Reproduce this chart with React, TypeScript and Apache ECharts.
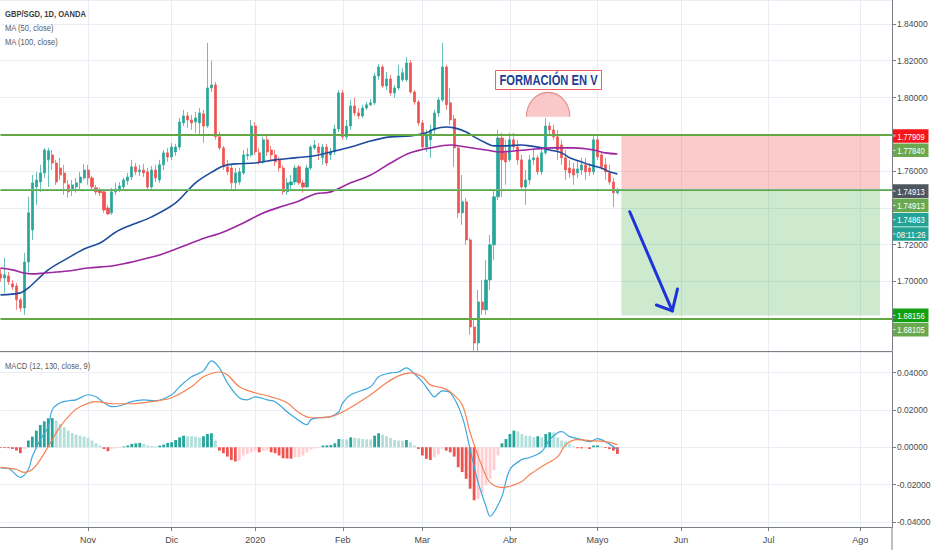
import React, { useEffect, useRef } from "react";
import * as echarts from "echarts";

// ---------- text ----------
const TITLE = "GBP/SGD, 1D, OANDA";
const MA_LABELS = ["MA (50, close)", "MA (100, close)"];
const MACD_LABEL = "MACD (12, 130, close, 9)";
const PATTERN_TEXT = "FORMACIÓN EN V";
const MONTH_NAMES = ["Ene", "Feb", "Mar", "Abr", "Mayo", "Jun", "Jul", "Ago", "Sep", "Oct", "Nov", "Dic"];

// ---------- categories (daily bars, weekdays) ----------
const FIRST_DAY = [2019, 9, 2];
const HOLIDAYS = ["2019-12-25", "2020-01-01"];
const SLOT_COUNT = 225;

// ---------- candles: [open, close, low, high] ----------
const CANDLES: number[][] = [
  [1.7041, 1.7019, 1.6998, 1.7074], [1.7019, 1.7036, 1.6938, 1.7128], [1.7030, 1.6998, 1.6981, 1.7052],
  [1.6987, 1.6970, 1.6954, 1.7008], [1.6976, 1.6900, 1.6846, 1.6992], [1.6900, 1.6856, 1.6835, 1.6911],
  [1.6856, 1.7106, 1.6818, 1.7155], [1.7106, 1.7373, 1.7047, 1.7460], [1.7280, 1.7536, 1.7226, 1.7579],
  [1.7514, 1.7552, 1.7416, 1.7596], [1.7541, 1.7590, 1.7487, 1.7634], [1.7590, 1.7715, 1.7563, 1.7726],
  [1.7661, 1.7710, 1.7514, 1.7726], [1.7688, 1.7644, 1.7606, 1.7715], [1.7644, 1.7541, 1.7525, 1.7661],
  [1.7617, 1.7579, 1.7552, 1.7672], [1.7590, 1.7536, 1.7471, 1.7634], [1.7525, 1.7487, 1.7455, 1.7552],
  [1.7498, 1.7525, 1.7465, 1.7552], [1.7514, 1.7536, 1.7482, 1.7563], [1.7536, 1.7568, 1.7498, 1.7596],
  [1.7563, 1.7606, 1.7552, 1.7639], [1.7606, 1.7563, 1.7525, 1.7634], [1.7563, 1.7514, 1.7498, 1.7574],
  [1.7509, 1.7487, 1.7471, 1.7525], [1.7492, 1.7482, 1.7465, 1.7509], [1.7487, 1.7389, 1.7373, 1.7498],
  [1.7400, 1.7367, 1.7362, 1.7416], [1.7373, 1.7487, 1.7362, 1.7509], [1.7487, 1.7503, 1.7471, 1.7536],
  [1.7503, 1.7519, 1.7487, 1.7541], [1.7514, 1.7552, 1.7498, 1.7563], [1.7547, 1.7568, 1.7525, 1.7590],
  [1.7568, 1.7623, 1.7552, 1.7661], [1.7623, 1.7596, 1.7579, 1.7644], [1.7596, 1.7606, 1.7574, 1.7634],
  [1.7606, 1.7590, 1.7568, 1.7639], [1.7596, 1.7514, 1.7498, 1.7617], [1.7514, 1.7606, 1.7503, 1.7628],
  [1.7606, 1.7563, 1.7541, 1.7634], [1.7552, 1.7634, 1.7536, 1.7661], [1.7634, 1.7699, 1.7606, 1.7715],
  [1.7699, 1.7677, 1.7650, 1.7726], [1.7677, 1.7731, 1.7661, 1.7753], [1.7704, 1.7731, 1.7683, 1.7748],
  [1.7731, 1.7867, 1.7715, 1.7889], [1.7862, 1.7900, 1.7845, 1.7933], [1.7900, 1.7878, 1.7835, 1.7922],
  [1.7878, 1.7862, 1.7824, 1.7905], [1.7867, 1.7889, 1.7808, 1.7922], [1.7862, 1.7916, 1.7797, 1.7943],
  [1.7911, 1.7845, 1.7753, 1.7933], [1.7845, 1.8052, 1.7835, 1.8297], [1.8052, 1.8068, 1.8030, 1.8199],
  [1.8068, 1.7786, 1.7770, 1.8085], [1.7786, 1.7726, 1.7715, 1.7813], [1.7726, 1.7623, 1.7606, 1.7737],
  [1.7623, 1.7596, 1.7579, 1.7661], [1.7617, 1.7536, 1.7498, 1.7634], [1.7536, 1.7590, 1.7498, 1.7617],
  [1.7541, 1.7596, 1.7525, 1.7617], [1.7590, 1.7688, 1.7579, 1.7715], [1.7683, 1.7690, 1.7661, 1.7726],
  [1.7688, 1.7845, 1.7677, 1.7878], [1.7845, 1.7704, 1.7688, 1.7867], [1.7699, 1.7650, 1.7634, 1.7726],
  [1.7650, 1.7770, 1.7639, 1.7786], [1.7770, 1.7704, 1.7683, 1.7797], [1.7715, 1.7688, 1.7661, 1.7737],
  [1.7688, 1.7650, 1.7628, 1.7715], [1.7661, 1.7617, 1.7596, 1.7677], [1.7617, 1.7487, 1.7471, 1.7634],
  [1.7487, 1.7536, 1.7471, 1.7563], [1.7525, 1.7541, 1.7498, 1.7579], [1.7541, 1.7617, 1.7525, 1.7634],
  [1.7623, 1.7536, 1.7525, 1.7634], [1.7536, 1.7514, 1.7482, 1.7552], [1.7514, 1.7617, 1.7509, 1.7634],
  [1.7617, 1.7731, 1.7606, 1.7742], [1.7726, 1.7742, 1.7715, 1.7770], [1.7731, 1.7699, 1.7661, 1.7753],
  [1.7672, 1.7731, 1.7634, 1.7748], [1.7731, 1.7644, 1.7628, 1.7748], [1.7688, 1.7704, 1.7661, 1.7726],
  [1.7704, 1.7829, 1.7688, 1.7851], [1.7829, 1.8025, 1.7813, 1.8041], [1.8025, 1.7786, 1.7770, 1.8041],
  [1.7786, 1.7845, 1.7770, 1.7878], [1.7845, 1.7954, 1.7824, 1.7987], [1.7954, 1.7916, 1.7900, 1.7998],
  [1.7916, 1.7900, 1.7884, 1.7943], [1.7900, 1.7943, 1.7889, 1.7960], [1.7943, 1.7960, 1.7933, 1.7976],
  [1.7960, 1.7971, 1.7954, 1.7992], [1.7971, 1.8117, 1.7960, 1.8134], [1.8117, 1.8166, 1.8096, 1.8183],
  [1.8166, 1.8063, 1.8052, 1.8177], [1.8063, 1.8101, 1.8041, 1.8139], [1.8101, 1.8025, 1.8009, 1.8123],
  [1.8025, 1.8052, 1.7998, 1.8068], [1.8052, 1.8117, 1.8041, 1.8177], [1.8096, 1.8134, 1.8085, 1.8161],
  [1.8096, 1.8188, 1.8085, 1.8221], [1.8188, 1.8030, 1.8020, 1.8204], [1.8030, 1.7976, 1.7960, 1.8041],
  [1.7976, 1.7862, 1.7845, 1.7987], [1.7862, 1.7731, 1.7715, 1.7878], [1.7731, 1.7797, 1.7704, 1.7824],
  [1.7770, 1.7824, 1.7672, 1.7851], [1.7824, 1.7916, 1.7797, 1.7933], [1.7916, 1.7987, 1.7894, 1.8003],
  [1.7987, 1.8166, 1.7976, 1.8297], [1.8166, 1.7960, 1.7933, 1.8177], [1.7971, 1.7878, 1.7851, 1.8052],
  [1.7884, 1.7726, 1.7623, 1.7905], [1.7726, 1.7373, 1.7346, 1.7742], [1.7373, 1.7433, 1.7308, 1.7579],
  [1.7433, 1.7226, 1.7199, 1.7455], [1.7226, 1.6753, 1.6710, 1.7237], [1.6753, 1.6666, 1.6617, 1.6802],
  [1.6666, 1.6889, 1.6617, 1.6954], [1.6889, 1.6846, 1.6818, 1.7008], [1.6846, 1.7008, 1.6818, 1.7117],
  [1.7008, 1.7199, 1.6954, 1.7253], [1.7199, 1.7460, 1.7117, 1.7498], [1.7460, 1.7780, 1.7443, 1.7824],
  [1.7780, 1.7661, 1.7460, 1.7808], [1.7699, 1.7650, 1.7525, 1.7770], [1.7661, 1.7770, 1.7650, 1.7808],
  [1.7770, 1.7731, 1.7715, 1.7808], [1.7731, 1.7661, 1.7634, 1.7770], [1.7661, 1.7514, 1.7498, 1.7688],
  [1.7514, 1.7552, 1.7416, 1.7606], [1.7552, 1.7661, 1.7525, 1.7688], [1.7661, 1.7672, 1.7634, 1.7715],
  [1.7672, 1.7596, 1.7579, 1.7688], [1.7596, 1.7699, 1.7579, 1.7726], [1.7699, 1.7845, 1.7688, 1.7889],
  [1.7845, 1.7824, 1.7797, 1.7867], [1.7824, 1.7786, 1.7770, 1.7851], [1.7786, 1.7715, 1.7661, 1.7824],
  [1.7742, 1.7672, 1.7634, 1.7770], [1.7672, 1.7606, 1.7552, 1.7715], [1.7617, 1.7590, 1.7563, 1.7661],
  [1.7612, 1.7579, 1.7525, 1.7644], [1.7590, 1.7612, 1.7563, 1.7661], [1.7606, 1.7634, 1.7579, 1.7672],
  [1.7634, 1.7596, 1.7552, 1.7672], [1.7617, 1.7596, 1.7574, 1.7644], [1.7596, 1.7770, 1.7579, 1.7797],
  [1.7770, 1.7677, 1.7661, 1.7797], [1.7688, 1.7623, 1.7606, 1.7704], [1.7634, 1.7596, 1.7552, 1.7672],
  [1.7590, 1.7541, 1.7525, 1.7634], [1.7541, 1.7482, 1.7405, 1.7563], [1.7482, 1.7491, 1.7471, 1.7509],
];

// ---------- moving averages: [bar index, value] ----------
const MA50: number[][] = [
  [0, 1.6927], [5, 1.6938], [7, 1.6965], [12, 1.7063], [17, 1.7128], [21, 1.7177], [25, 1.7209],
  [29, 1.7269], [33, 1.7308], [38, 1.7351], [44, 1.7427], [49, 1.7536], [54, 1.7606], [56, 1.7628],
  [59, 1.7639], [64, 1.7644], [69, 1.7661], [74, 1.7672], [79, 1.7683], [83, 1.7704], [88, 1.7731],
  [93, 1.7764], [98, 1.7786], [103, 1.7791], [107, 1.7808], [109, 1.7829], [112, 1.7840], [114, 1.7835],
  [117, 1.7813], [119, 1.7786], [122, 1.7753], [124, 1.7737], [127, 1.7737], [131, 1.7742], [133, 1.7737],
  [136, 1.7726], [138, 1.7715], [141, 1.7699], [143, 1.7672], [146, 1.7650], [148, 1.7634], [151, 1.7617],
  [153, 1.7596], [155, 1.7585],
];
const MA100: number[][] = [
  [0, 1.7073], [3, 1.7063], [6, 1.7046], [8, 1.7041], [11, 1.7046], [17, 1.7057], [22, 1.7073],
  [28, 1.7084], [32, 1.7101], [36, 1.7122], [40, 1.7144], [50, 1.7226], [56, 1.7269], [61, 1.7318],
  [66, 1.7372], [71, 1.7410], [75, 1.7438], [79, 1.7476], [83, 1.7487], [88, 1.7536], [93, 1.7579],
  [98, 1.7644], [103, 1.7699], [108, 1.7726], [113, 1.7742], [117, 1.7731], [122, 1.7715], [125, 1.7704],
  [132, 1.7715], [139, 1.7726], [144, 1.7726], [149, 1.7715], [152, 1.7699], [155, 1.7693],
];

// ---------- MACD ----------
const MACD_LINE: number[][] = [
  [0, -0.0110], [2, -0.0114], [5, -0.0161], [7, -0.0119], [8, -0.0050], [10, 0.0041], [12, 0.0110],
  [13, 0.0201], [15, 0.0238], [17, 0.0249], [19, 0.0254], [22, 0.0281], [24, 0.0270], [26, 0.0238],
  [28, 0.0217], [30, 0.0222], [33, 0.0244], [36, 0.0254], [39, 0.0249], [43, 0.0281], [45, 0.0324],
  [48, 0.0377], [51, 0.0409], [53, 0.0462], [55, 0.0425], [57, 0.0345], [60, 0.0265], [62, 0.0254],
  [64, 0.0270], [67, 0.0254], [69, 0.0244], [72, 0.0190], [74, 0.0158], [77, 0.0121], [78, 0.0148],
  [80, 0.0158], [83, 0.0164], [85, 0.0190], [86, 0.0238], [88, 0.0281], [93, 0.0324], [95, 0.0377],
  [98, 0.0398], [100, 0.0403], [102, 0.0425], [103, 0.0414], [106, 0.0350], [108, 0.0292], [109, 0.0270],
  [111, 0.0302], [113, 0.0292], [116, 0.0164], [118, -0.0012], [120, -0.0188], [122, -0.0316],
  [123, -0.0369], [124, -0.0348], [126, -0.0263], [128, -0.0119], [131, -0.0066], [133, -0.0055],
  [136, -0.0023], [138, 0.0041], [140, 0.0078], [141, 0.0084], [143, 0.0057], [146, 0.0041],
  [148, 0.0030], [150, 0.0046], [152, 0.0030], [155, -0.0012],
];
const SIGNAL_LINE: number[][] = [
  [0, -0.0108], [4, -0.0119], [6, -0.0135], [8, -0.0119], [10, -0.0066], [12, 0.0004], [15, 0.0110],
  [18, 0.0185], [20, 0.0217], [24, 0.0244], [28, 0.0233], [33, 0.0233], [38, 0.0244], [43, 0.0265],
  [48, 0.0324], [51, 0.0377], [55, 0.0403], [57, 0.0388], [60, 0.0324], [64, 0.0292], [68, 0.0270],
  [72, 0.0238], [75, 0.0185], [78, 0.0158], [80, 0.0158], [83, 0.0164], [87, 0.0201], [93, 0.0281],
  [97, 0.0345], [100, 0.0382], [103, 0.0398], [106, 0.0377], [108, 0.0334], [111, 0.0318], [113, 0.0297],
  [116, 0.0228], [118, 0.0078], [121, -0.0103], [123, -0.0188], [126, -0.0215], [128, -0.0209],
  [131, -0.0183], [133, -0.0146], [136, -0.0103], [140, -0.0050], [142, 0.0014], [145, 0.0041],
  [148, 0.0036], [152, 0.0030], [155, 0.0014],
];
const HISTOGRAM: number[] = [
  -0.0004, -0.0004, -0.0005, -0.0009, -0.0018, -0.0032, -0.0009, 0.0036, 0.0057, 0.0089,
  0.0119, 0.0139, 0.0155, 0.0156, 0.0142, 0.0124, 0.0107, 0.0089, 0.0076, 0.0068,
  0.0062, 0.0057, 0.0050, 0.0036, 0.0021, 0.0009, -0.0009, -0.0021, -0.0009, -0.0005,
  -0.0004, 0.0004, 0.0009, 0.0018, 0.0021, 0.0023, 0.0018, 0.0009, 0.0007, 0.0005,
  0.0009, 0.0014, 0.0023, 0.0027, 0.0039, 0.0053, 0.0062, 0.0060, 0.0059, 0.0057,
  0.0053, 0.0059, 0.0071, 0.0075, 0.0036, -0.0018, -0.0032, -0.0050, -0.0068, -0.0076,
  -0.0071, -0.0044, -0.0036, -0.0027, -0.0018, -0.0027, -0.0018, -0.0016, -0.0027, -0.0032,
  -0.0044, -0.0059, -0.0060, -0.0061, -0.0053, -0.0052, -0.0044, -0.0027, -0.0012, -0.0007,
  -0.0004, 0.0009, 0.0010, 0.0012, 0.0021, 0.0044, 0.0043, 0.0042, 0.0053, 0.0050,
  0.0048, 0.0044, 0.0043, 0.0042, 0.0062, 0.0075, 0.0068, 0.0059, 0.0050, 0.0039,
  0.0036, 0.0035, 0.0039, 0.0027, 0.0009, -0.0009, -0.0044, -0.0062, -0.0068, -0.0053,
  -0.0039, -0.0009, -0.0018, -0.0027, -0.0050, -0.0107, -0.0133, -0.0169, -0.0222, -0.0284,
  -0.0276, -0.0249, -0.0204, -0.0169, -0.0124, -0.0044, 0.0021, 0.0044, 0.0071, 0.0089,
  0.0085, 0.0071, 0.0062, 0.0061, 0.0053, 0.0059, 0.0053, 0.0071, 0.0080, 0.0079,
  0.0053, 0.0036, 0.0032, 0.0018, 0.0005, -0.0005, -0.0006, -0.0005, -0.0009, 0.0009,
  0.0010, 0.0004, -0.0004, -0.0009, -0.0018, -0.0036,
];

// ---------- levels & annotations ----------
const POSITION = { fromBar: 156, toBar: 221, stop: 1.77909, entry: 1.74913, target: 1.68156 };
const GREEN_LINES = [1.7784, 1.74913, 1.68105];
const PRICE_LINE = 1.74863;
const PRICE_RANGE = [1.6622, 1.853];
const MACD_RANGE = [-0.0427, 0.051];
const TAGS = [
  { value: 1.77909, text: "1.77909", bg: "#f5161b" },
  { value: 1.7784, text: "1.77840", bg: "#6aa84f" },
  { value: 1.74913, text: "1.74913", bg: "#50565f" },
  { value: 1.74913, text: "1.74913", bg: "#6aa84f" },
  { value: 1.74863, text: "1.74863", bg: "#22a396" },
  { value: 1.74863, text: "08:11:26", bg: "#22a396" },
  { value: 1.68156, text: "1.68156", bg: "#11a011" },
  { value: 1.68105, text: "1.68105", bg: "#6aa84f" },
];
const ARROW = { tail: [158.1, 1.7379], tip: [168.8, 1.684], armA: [164.8, 1.6872], armB: [170.1, 1.6959] };
const PATTERN_LABEL_AT = [137.7, 1.8095];
const PATTERN_ARC_AT = [137.6, 1.7896];

const FONT = "'Liberation Sans', Arial, sans-serif";
const SQUEEZE = 0.8; // the reference's lettering is horizontally condensed
const GRID_LINE = "#e8eef4";
const AXIS = "#7b7e84";
const LABEL = "#4a4a4a";
const AXIS_X = 892;

function buildDates(): string[] {
  const out: string[] = [];
  const d = new Date(Date.UTC(FIRST_DAY[0], FIRST_DAY[1], FIRST_DAY[2]));
  while (out.length < SLOT_COUNT) {
    const wd = d.getUTCDay();
    const iso = d.toISOString().slice(0, 10);
    if (wd !== 0 && wd !== 6 && !HOLIDAYS.includes(iso)) out.push(iso);
    d.setUTCDate(d.getUTCDate() + 1);
  }
  return out;
}

const DATES = buildDates();
const isMonthStart = (i: number) => i > 0 && DATES[i].slice(0, 7) !== DATES[i - 1].slice(0, 7);
const monthLabel = (i: number) => {
  const m = +DATES[i].slice(5, 7);
  return m === 1 ? DATES[i].slice(0, 4) : MONTH_NAMES[m - 1];
};
const fmt = (v: number) => v.toFixed(5);

function buildOption(): any {
  const xBase = (gridIndex: number, showLabels: boolean) => ({
    type: "category",
    gridIndex,
    data: DATES,
    boundaryGap: false,
    axisLine: { show: true, onZero: false, lineStyle: { color: AXIS, width: 1 } },
    axisTick: showLabels
      ? { show: true, interval: (i: number) => isMonthStart(i), length: 4, lineStyle: { color: AXIS } }
      : { show: false },
    axisLabel: showLabels
      ? {
          interval: (i: number) => isMonthStart(i),
          formatter: (_v: string, i: number) => monthLabel(i),
          color: LABEL,
          fontSize: 9,
          margin: 8,
          fontFamily: FONT,
        }
      : { show: false },
    splitLine: { show: true, interval: (i: number) => isMonthStart(i), lineStyle: { color: GRID_LINE, width: 1 } },
  });
  const yBase = (gridIndex: number, range: number[], splitNumber: number) => ({
    type: "value",
    gridIndex,
    position: "right",
    min: range[0],
    max: range[1],
    splitNumber,
    axisLine: { show: true, lineStyle: { color: AXIS, width: 1 } },
    axisTick: { show: true, length: 4, lineStyle: { color: AXIS } },
    axisLabel: {
      formatter: fmt,
      color: LABEL,
      fontSize: 8.5,
      margin: 5,
      fontFamily: FONT,
      showMinLabel: false,
      showMaxLabel: false,
    },
    splitLine: { show: true, lineStyle: { color: GRID_LINE, width: 1 } },
  });

  const histData = HISTOGRAM.map((v, i) => {
    const prev = i > 0 ? HISTOGRAM[i - 1] : v;
    let color: string;
    if (v >= 0) color = v >= prev ? "#26a69a" : "#b2dfdb";
    else color = v <= prev ? "#ef5350" : "#ffcdd2";
    return { value: [DATES[i], v], itemStyle: { color } };
  });
  const pairs = (arr: number[][]) => arr.map((p) => [DATES[p[0]], p[1]]);
  const gridBase = { left: 0.5, right: 932 - AXIS_X, containLabel: false, outerBoundsMode: "none" };

  return {
    animation: false,
    backgroundColor: "#ffffff",
    grid: [
      { ...gridBase, top: 0, height: 351 },
      { ...gridBase, top: 352, bottom: 23 },
    ],
    xAxis: [xBase(0, false), xBase(1, true)],
    yAxis: [yBase(0, PRICE_RANGE, 10), yBase(1, MACD_RANGE, 5)],
    series: [
      {
        type: "candlestick",
        xAxisIndex: 0,
        yAxisIndex: 0,
        data: CANDLES,
        barWidth: 2.6,
        itemStyle: {
          color: "#26a69a",
          color0: "#ef5350",
          borderColor: "#26a69a",
          borderColor0: "#ef5350",
          borderWidth: 0.7,
        },
        markArea: {
          silent: true,
          data: [
            [
              { coord: [DATES[POSITION.fromBar], POSITION.stop], itemStyle: { color: "rgba(245,80,80,0.30)" } },
              { coord: [DATES[POSITION.toBar], POSITION.entry] },
            ],
            [
              { coord: [DATES[POSITION.fromBar], POSITION.entry], itemStyle: { color: "rgba(76,175,80,0.28)" } },
              { coord: [DATES[POSITION.toBar], POSITION.target] },
            ],
          ],
        },
        markLine: {
          silent: true,
          symbol: ["none", "none"],
          label: { show: false },
          data: [
            ...GREEN_LINES.map((v) => ({ yAxis: v, lineStyle: { color: "#63a844", width: 2, type: "solid" } })),
            { yAxis: PRICE_LINE, lineStyle: { color: "#7fcfc6", width: 1.2, type: [1, 1] } },
          ],
        },
      },
      {
        type: "line",
        xAxisIndex: 0,
        yAxisIndex: 0,
        data: pairs(MA50),
        smooth: 0.35,
        showSymbol: false,
        lineStyle: { color: "#1d4b9e", width: 1.6 },
      },
      {
        type: "line",
        xAxisIndex: 0,
        yAxisIndex: 0,
        data: pairs(MA100),
        smooth: 0.35,
        showSymbol: false,
        lineStyle: { color: "#9c27a0", width: 1.6 },
      },
      {
        type: "bar",
        xAxisIndex: 1,
        yAxisIndex: 1,
        data: histData,
        barWidth: 2.8,
      },
      {
        type: "line",
        xAxisIndex: 1,
        yAxisIndex: 1,
        data: pairs(MACD_LINE),
        smooth: 0.35,
        showSymbol: false,
        lineStyle: { color: "#3ea8dc", width: 1.2 },
      },
      {
        type: "line",
        xAxisIndex: 1,
        yAxisIndex: 1,
        data: pairs(SIGNAL_LINE),
        smooth: 0.35,
        showSymbol: false,
        lineStyle: { color: "#f7804e", width: 1.2 },
      },
    ],
  };
}

function layoutTags(chart: any): number[] {
  let prevY = -100;
  return TAGS.map((tag) => {
    let y = chart.convertToPixel({ yAxisIndex: 0 }, tag.value);
    if (y < prevY + 14.3) y = prevY + 14.3;
    prevY = y;
    return y;
  });
}

function buildGraphics(chart: any, tagYs: number[]): any[] {
  const toPx = (j: number, price: number) => {
    const j0 = Math.floor(j);
    const a = chart.convertToPixel({ gridIndex: 0 }, [j0, price]);
    const b = chart.convertToPixel({ gridIndex: 0 }, [j0 + 1, price]);
    return [a[0] + (b[0] - a[0]) * (j - j0), a[1]];
  };
  const g: any[] = [];

  // header texts
  g.push({
    type: "text", x: 5, y: 14, scaleX: SQUEEZE, z: 50,
    style: { text: TITLE, fill: "#3d3d3d", font: `bold 9.5px ${FONT}`, verticalAlign: "middle" },
  });
  MA_LABELS.forEach((t, k) =>
    g.push({
      type: "text", x: 5, y: 28 + k * 14, scaleX: SQUEEZE, z: 50,
      style: { text: t, fill: "#5a5a5a", font: `9.5px ${FONT}`, verticalAlign: "middle" },
    })
  );
  g.push({
    type: "text", x: 5, y: 366, scaleX: SQUEEZE, z: 50,
    style: { text: MACD_LABEL, fill: "#5a5a5a", font: `9.5px ${FONT}`, verticalAlign: "middle" },
  });

  // axis line continuation below MACD pane
  g.push({ type: "line", z: 50, shape: { x1: AXIS_X, y1: 527, x2: AXIS_X, y2: 550 }, style: { stroke: AXIS, lineWidth: 1 } });

  // pattern arc
  const arc = toPx(PATTERN_ARC_AT[0], PATTERN_ARC_AT[1]);
  g.push({
    type: "sector", z: 40, x: arc[0], y: arc[1], scaleY: 1.12,
    shape: { cx: 0, cy: 0, r: 21.7, r0: 0, startAngle: Math.PI, endAngle: 2 * Math.PI, clockwise: true },
    style: { fill: "#fac8c8" },
  });
  g.push({
    type: "arc", z: 41, x: arc[0], y: arc[1], scaleY: 1.12,
    shape: { cx: 0, cy: 0, r: 21.7, startAngle: Math.PI, endAngle: 2 * Math.PI, clockwise: true },
    style: { stroke: "#e58a8a", lineWidth: 1, fill: null },
  });

  // pattern label
  const lab = toPx(PATTERN_LABEL_AT[0], PATTERN_LABEL_AT[1]);
  g.push({
    type: "group", x: lab[0], y: lab[1], z: 45,
    children: [
      { type: "rect", shape: { x: -53, y: -9.5, width: 106, height: 19 }, style: { fill: "#ffffff", stroke: "#ef5b5b", lineWidth: 1 } },
      {
        type: "text", x: 0, y: 0.5, scaleX: SQUEEZE,
        style: { text: PATTERN_TEXT, fill: "#1d3f94", font: `bold 14px ${FONT}`, align: "center", verticalAlign: "middle" },
      },
    ],
  });

  // arrow
  const t = toPx(ARROW.tail[0], ARROW.tail[1]);
  const p = toPx(ARROW.tip[0], ARROW.tip[1]);
  const a1 = toPx(ARROW.armA[0], ARROW.armA[1]);
  const a2 = toPx(ARROW.armB[0], ARROW.armB[1]);
  const arrowStyle = { stroke: "#1f33dc", lineWidth: 3, lineCap: "round", lineJoin: "round", fill: null };
  g.push({ type: "polyline", z: 45, shape: { points: [t, p] }, style: arrowStyle });
  g.push({ type: "polyline", z: 45, shape: { points: [a1, p, a2] }, style: arrowStyle });

  // price tags on the right
  TAGS.forEach((tag, k) => {
    g.push({
      type: "group", x: AXIS_X + 0.5, y: tagYs[k], z: 60,
      children: [
        { type: "rect", shape: { x: 0, y: -6.8, width: 36, height: 13.6 }, style: { fill: tag.bg } },
        { type: "line", shape: { x1: 0, y1: 0, x2: 3, y2: 0 }, style: { stroke: "rgba(255,255,255,0.8)", lineWidth: 1 } },
        {
          type: "text", x: 18.5, y: 0.5, scaleX: SQUEEZE,
          style: { text: tag.text, fill: "#ffffff", font: `9.5px ${FONT}`, align: "center", verticalAlign: "middle" },
        },
      ],
    });
  });
  return g;
}

export default function App() {
  const ref = useRef<HTMLDivElement>(null);
  useEffect(() => {
    document.body.style.margin = "0";
    const chart = echarts.init(ref.current!, null, { renderer: "svg" });
    chart.setOption(buildOption());
    const tagYs = layoutTags(chart);
    // price labels that sit under a tag are left out, as the tags cover them
    const covered = (v: number) => {
      const y = chart.convertToPixel({ yAxisIndex: 0 }, v);
      return tagYs.some((ty) => Math.abs(ty - y) < 9);
    };
    chart.setOption({
      yAxis: [{ axisLabel: { formatter: (v: number) => (covered(v) ? "" : fmt(v)) } }],
      graphic: buildGraphics(chart, tagYs),
    });
    return () => chart.dispose();
  }, []);
  return (
    <div
      ref={ref}
      style={{ width: 932, height: 550, position: "absolute", left: 0, top: 0, background: "#ffffff" }}
    />
  );
}
